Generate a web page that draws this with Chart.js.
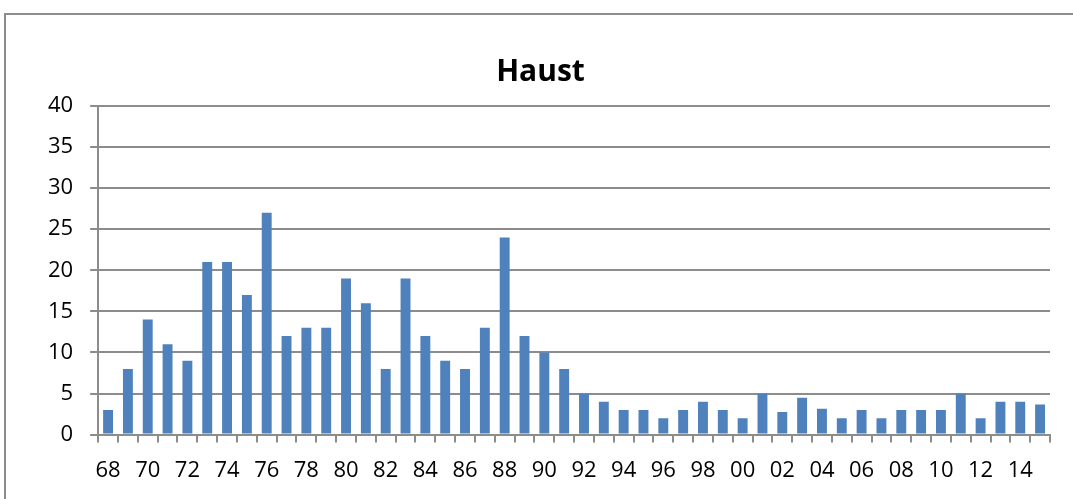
<!DOCTYPE html>
<html>
<head>
<meta charset="utf-8">
<script src="https://cdn.jsdelivr.net/npm/chart.js@4"></script>
<style>
  html, body { margin: 0; padding: 0; background: #fff; }
  #wrap { position: relative; width: 1073px; height: 499px; }
  #frame { position: absolute; left: 4px; top: 13px; right: -2px; bottom: -2px;
           border-top: 2px solid #8c8c8c; border-left: 2px solid #8c8c8c; }
</style>
</head>
<body>
<div id="wrap">
  <div id="frame"></div>
  <canvas id="myChart" width="1073" height="499"></canvas>
</div>
<script>
let years = [
    '68','69','70','71','72','73','74','75','76','77','78','79',
    '80','81','82','83','84','85','86','87','88','89','90','91',
    '92','93','94','95','96','97','98','99','00','01','02','03',
    '04','05','06','07','08','09','10','11','12','13','14','15'
    ];

let values = [
    3, 8, 14, 11, 9, 21, 21, 17, 27, 12, 13, 13,
    19, 16, 8, 19, 12, 9, 8, 13, 24, 12, 10, 8,
    5, 4, 3, 3, 2, 3, 4, 3, 2, 5, 2.75, 4.5,
    3.15, 2, 3, 2, 3, 3, 3, 5, 2, 4, 4, 3.65
    ];

let yTicks = [0, 5, 10, 15, 20, 25, 30, 35, 40];

let font = "'Open Sans', 'DejaVu Sans', sans-serif";

let ctx = document.getElementById('myChart').getContext('2d');

let chart = new Chart(ctx, {
    type: 'bar',
    data: {
        labels: years,
        datasets: [{
            label: 'Haust',
            data: values,
            backgroundColor: '#4f81bd',
            barPercentage: 0.5,
            categoryPercentage: 1.0
        }]
    },
    options: {
        responsive: false,
        animation: false,
        layout: {
            padding: { left: 31, right: 23, top: 50, bottom: 0 }
        },
        plugins: {
            legend: { display: false },
            tooltip: { enabled: false },
            title: {
                display: true,
                text: 'Haust',
                color: '#000',
                font: { family: font, size: 30, weight: 'bold' },
                padding: { top: 4, bottom: 16 }
            }
        },
        scales: {
            x: {
                grid: {
                    offset: true,
                    drawOnChartArea: false,
                    drawTicks: true,
                    tickLength: 8,
                    color: '#8c8c8c',
                    lineWidth: 2
                },
                border: { color: '#8c8c8c', width: 2 },
                ticks: {
                    autoSkip: false,
                    maxRotation: 0,
                    color: '#000',
                    padding: 15,
                    font: { family: font, size: 22 },
                    callback: function(val, index) {
                        return index % 2 === 0 ? years[index] : '';
                    }
                }
            },
            y: {
                min: 0,
                max: 40,
                afterBuildTicks: function(axis) {
                    axis.ticks = yTicks.map(v => ({ value: v }));
                },
                grid: {
                    color: '#8c8c8c',
                    lineWidth: 2,
                    tickLength: 8
                },
                border: { color: '#8c8c8c', width: 2 },
                ticks: {
                    color: '#000',
                    padding: 17,
                    font: { family: font, size: 22 }
                }
            }
        }
    }
});
</script>
</body>
</html>
